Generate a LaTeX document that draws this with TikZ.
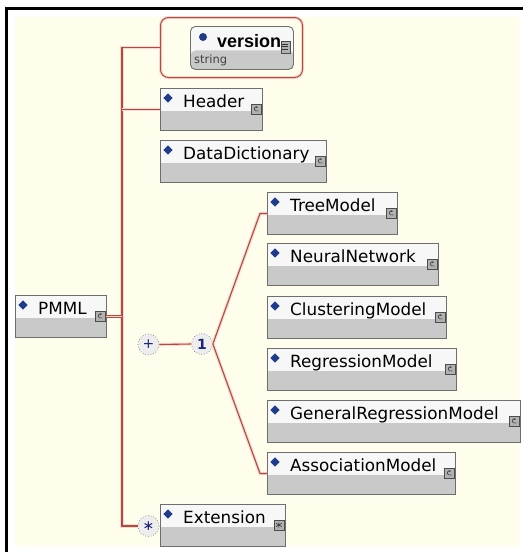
\documentclass[tikz,border=0pt]{standalone}
\usepackage{fontspec}
\setmainfont{DejaVu Sans}
\newfontfamily\attrfont{Liberation Sans}
\definecolor{cream}{HTML}{FFFDEB}
\definecolor{linecol}{HTML}{B44A3C}
\definecolor{halo}{HTML}{F6D9D2}
\definecolor{boxline}{HTML}{6E6E6E}
\definecolor{boxtop}{HTML}{F7F7F7}
\definecolor{boxgray}{HTML}{C9C9C9}
\definecolor{diamcol}{HTML}{1F3C8C}
\definecolor{navy}{HTML}{1A237E}
\tikzset{
  elbox/.style={rectangle, draw=boxline, line width=0.9pt, fill=boxtop,
    anchor=north west, minimum height=42pt, inner sep=0pt,
    path picture={\fill[boxgray] (path picture bounding box.south west)
      rectangle ([yshift=19pt]path picture bounding box.south east);}},
  eltext/.style={anchor=base west, inner sep=0pt, text=black,
    font=\fontsize{16.8}{17}\selectfont},
  icobox/.style={rectangle, draw=black!70, fill=black!30, line width=0.6pt,
    anchor=north west, minimum width=10pt, minimum height=10pt, inner sep=0pt},
  conn/.style={draw=linecol, line width=1.1pt,
    preaction={draw=halo, line width=3.2pt}},
  conndouble/.style={draw=linecol, line width=0.8pt, double=halo,
    double distance=1.6pt},
  circ/.style={circle, draw=black!50, line width=0.7pt, dotted, fill=black!7,
    minimum size=21pt, inner sep=0pt, text=navy,
    font=\fontsize{14}{14}\selectfont}
}
% complex-type glyph in the corner of an element box
\newcommand\icoc[1]{%
  \node[icobox] (#1-ico) at ([xshift=-12pt,yshift=-16pt]#1.north east) {};
  \draw[black!80, line width=0.6pt]
    ([shift={(7pt,-3pt)}]#1-ico.north west)
    .. controls ([shift={(2pt,-1.5pt)}]#1-ico.north west)
    and ([shift={(2pt,-8.5pt)}]#1-ico.north west)
    .. ([shift={(7.5pt,-7pt)}]#1-ico.north west);
  \draw[black!80, line width=0.5pt]
    ([shift={(5pt,-2pt)}]#1-ico.north west) -- ([shift={(6pt,-4pt)}]#1-ico.north west);}
% wildcard glyph
\newcommand\icoany[1]{%
  \node[icobox] (#1-ico) at ([xshift=-12pt,yshift=-16pt]#1.north east) {};
  \draw[black!80, line width=0.6pt]
    ([shift={(5pt,-1.8pt)}]#1-ico.north west) -- ([shift={(5pt,-8.2pt)}]#1-ico.north west)
    ([shift={(2.2pt,-3.4pt)}]#1-ico.north west) -- ([shift={(7.8pt,-6.6pt)}]#1-ico.north west)
    ([shift={(2.2pt,-6.6pt)}]#1-ico.north west) -- ([shift={(7.8pt,-3.4pt)}]#1-ico.north west);}
% element box: name, x, y, width, label, icon
\newcommand\xel[6]{%
  \node[elbox, minimum width=#4pt] (#1) at (#2,#3) {};
  \node[eltext] (#1-lbl) at ([xshift=23pt,yshift=-19pt]#1.north west) {#5};
  \fill[diamcol] ([xshift=8pt,yshift=-10pt]#1.north west)
    +(0,4.6pt) -- +(4.6pt,0) -- +(0,-4.6pt) -- +(-4.6pt,0) -- cycle;
  #6{#1}}
\begin{document}
\begin{tikzpicture}[x=1pt,y=-1pt]
\useasboundingbox (0,0) rectangle (523,552);
% frame and canvas
\fill[white] (0,0) rectangle (523,552);
\fill[black] (5,7) rectangle (523,9.5);
\fill[black] (5,7) rectangle (7.5,552);
\fill[cream] (15,17) rectangle (520,547);

% attribute "version"
\node[draw=linecol, line width=1pt, rounded corners=8pt, anchor=north west,
  minimum width=142pt, minimum height=60pt, inner sep=0pt,
  preaction={draw=halo, line width=3pt}] (verwrap) at (160,17) {};
\node[rectangle, draw=boxline, line width=0.9pt, rounded corners=5pt, fill=boxtop,
  anchor=north west, minimum width=103pt, minimum height=43pt, inner sep=0pt,
  path picture={\fill[boxgray] (path picture bounding box.south west)
    rectangle ([yshift=19pt]path picture bounding box.south east);}]
  (version) at (190,26) {};
\fill[diamcol] ([xshift=13pt,yshift=-11pt]version.north west) circle (4pt);
\node[anchor=base west, inner sep=0pt, font=\attrfont\bfseries\fontsize{18}{18}\selectfont]
  (version-lbl) at ([xshift=27pt,yshift=-21pt]version.north west) {version};
\node[anchor=base west, inner sep=0pt, text=black!75, font=\fontsize{11.5}{12}\selectfont]
  (version-type) at ([xshift=4pt,yshift=-37pt]version.north west) {string};
\node[icobox, minimum width=9pt, minimum height=12pt] (version-ico)
  at ([xshift=-13pt,yshift=-15pt]version.north east) {};
\foreach \k in {3,5.5,8.5}
  \draw[black!80, line width=0.7pt] ([shift={(1.5pt,-\k pt)}]version-ico.north west)
    -- ([shift={(7.5pt,-\k pt)}]version-ico.north west);

% elements
\xel{pmml}{15}{295}{91}{PMML}{\icoc}
\xel{header}{160}{88}{102}{Header}{\icoc}
\xel{datadict}{160}{140}{166}{DataDictionary}{\icoc}
\xel{treemodel}{267}{192}{130}{TreeModel}{\icoc}
\xel{neural}{267}{243}{171}{NeuralNetwork}{\icoc}
\xel{clustering}{267}{296}{179}{ClusteringModel}{\icoc}
\xel{regression}{267}{348}{189}{RegressionModel}{\icoc}
\xel{genreg}{267}{400}{253}{GeneralRegressionModel}{\icoc}
\xel{assoc}{267}{452}{188}{AssociationModel}{\icoc}
\xel{extension}{160}{504}{125}{Extension}{\icoany}

% compositors
\node[circ] (seq) at (148.5,344.5) {+};
\node[circ, font=\bfseries\fontsize{14}{14}\selectfont] (choice) at (202,344) {1};
\node[circ] (anyext) at (148.5,526) {∗};

% connectors
\coordinate (trunk) at (122,0);
\draw[conn] (verwrap.west) -- (verwrap.west -| trunk) |- (anyext.west);
\draw[conn] (header.west) -- (header.west -| trunk);
\draw[conndouble] (pmml-ico.east) -- (pmml-ico.east -| trunk);
\draw[conn] (seq.east) -- (choice.west);
\draw[conn] (choice.east) -- ([xshift=-7pt]treemodel.west) -- (treemodel.west);
\draw[conn] (choice.east) -- ([xshift=-7pt]assoc.west) -- (assoc.west);
\end{tikzpicture}
\end{document}
